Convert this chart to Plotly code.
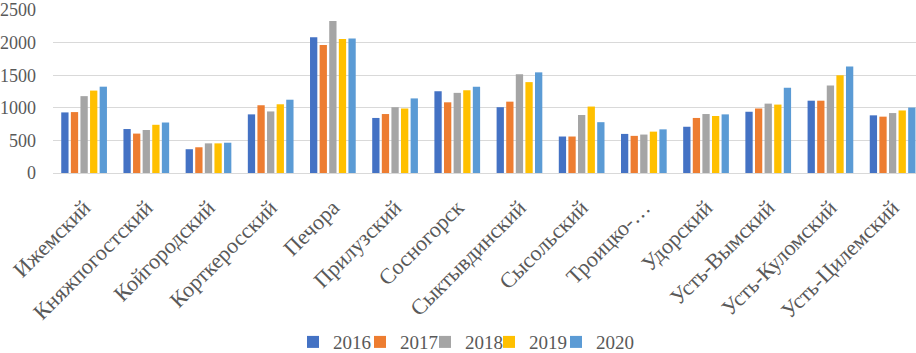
import plotly.graph_objects as go

categories = ["Ижемский", "Княжпогостский", "Койгородский", "Корткеросский", "Печора",
              "Прилузский", "Сосногорск", "Сыктывдинский", "Сысольский", "Троицко-…",
              "Удорский", "Усть-Вымский", "Усть-Куломский", "Усть-Цилемский"]

v2016 = [930, 675, 365, 900, 2085, 845, 1255, 1010, 560, 600, 710, 940, 1110, 885]
v2017 = [935, 605, 395, 1040, 1965, 905, 1085, 1095, 560, 570, 845, 990, 1110, 865]
v2018 = [1180, 660, 455, 945, 2335, 1010, 1230, 1515, 890, 590, 905, 1065, 1345, 920]
v2019 = [1265, 740, 455, 1055, 2055, 990, 1270, 1395, 1020, 635, 875, 1050, 1500, 960]
v2020 = [1325, 775, 465, 1125, 2065, 1145, 1325, 1545, 780, 670, 900, 1310, 1635, 1005]

years = ["2016", "2017", "2018", "2019", "2020"]
series = [v2016, v2017, v2018, v2019, v2020]
colors = ["#4472C4", "#ED7D31", "#A5A5A5", "#FFC000", "#5B9BD5"]

# legend entry left edges (px) within the 916 px wide figure
legend_left_px = [293, 360, 425, 489, 556]
W, H = 916, 353
font = "Liberation Serif"

fig = go.Figure()
legend_layouts = {}
for i, (name, vals, col) in enumerate(zip(years, series, colors)):
    lname = "legend" if i == 0 else f"legend{i + 1}"
    fig.add_trace(go.Bar(x=categories, y=vals, name=name, marker_color=col,
                         marker_line_width=0, legend=lname))
    legend_layouts[lname] = dict(
        orientation="h", xref="container", x=legend_left_px[i] / W, xanchor="left",
        yref="container", y=0.031, yanchor="middle",
        font=dict(family=font, size=19, color="#595959"),
        itemwidth=30, bgcolor="rgba(0,0,0,0)", borderwidth=0)

fig.update_layout(
    width=W, height=H,
    margin=dict(l=53, r=0, t=10, b=180),
    paper_bgcolor="white", plot_bgcolor="white",
    barmode="group", bargap=0.228, bargroupgap=0.24,
    font=dict(family=font, size=18, color="#595959"),
    showlegend=True,
    xaxis=dict(range=[-0.5, 13.376], tickangle=-45, showgrid=False,
               showline=True, linecolor="#D9D9D9", linewidth=1,
               tickfont=dict(family=font, size=22, color="#595959"),
               ticklabelstandoff=12, automargin=False),
    yaxis=dict(range=[0, 2502], tickvals=[0, 500, 1000, 1500, 2000, 2500],
               showgrid=True, gridcolor="#D9D9D9", gridwidth=1,
               zeroline=True, zerolinecolor="#D9D9D9", zerolinewidth=1,
               tickfont=dict(family=font, size=18, color="#595959"),
               ticklabelstandoff=16, ticklabeloverflow="allow", automargin=False),
    **legend_layouts,
)

fig.write_html("out.html", config={"displayModeBar": False},
               post_script="document.body.style.margin='0';document.body.style.overflow='hidden';")
